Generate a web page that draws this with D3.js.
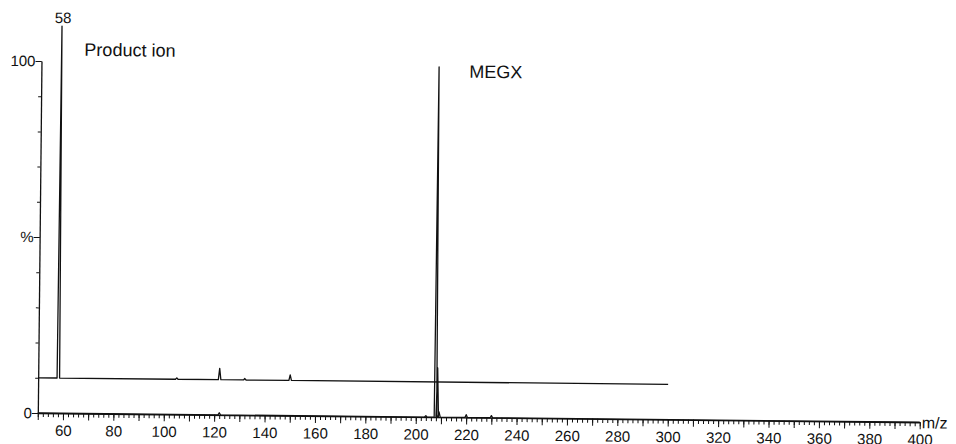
<!DOCTYPE html>
<html>
<head>
<meta charset="utf-8">
<script src="https://cdn.jsdelivr.net/npm/d3@7"></script>
<style>
  html, body { margin: 0; padding: 0; background: #fff; }
  svg { display: block; }
  text { font-family: "Liberation Sans", Arial, Helvetica, sans-serif; fill: #111; }
</style>
</head>
<body>
<svg id="chart" width="956" height="444"></svg>
<script>
// ---------- data ----------
// x-axis tick labels (m/z)
const xLabelTicks = [60, 80, 100, 120, 140, 160, 180, 200, 220, 240, 260, 280, 300, 320, 340, 360, 380, 400];
// y-axis tick labels (relative abundance, %)
const yLabelTicks = [0, 50, 100];
const yLabelTexts = ["0", "%", "100"];

// upper trace: product ion spectrum (drawn with a 10 % offset), m/z 50–300
const productMz        = [58,  105, 122, 132, 150];
const productIntensity = [100, 0.4, 3.2, 0.4, 1.6];
const productOffset    = 10;
const productSpan      = [50, 300];

// lower trace: full scan spectrum, m/z 50–400
const scanMz        = [122, 204, 207.8, 208.5, 209.2, 220, 230];
const scanIntensity = [0.6, 0.4, 99.5,  14,    1.5,   0.8, 0.6];
const scanSpan      = [50, 400];

// annotations
const peakLabel = "58";
const productLabel = "Product ion";
const megxLabel = "MEGX";
const xAxisTitle = "m/z";

// ---------- layout ----------
const svg = d3.select("#chart");
const x = d3.scaleLinear().domain([50, 400]).range([37.8, 919.8]);
const y = d3.scaleLinear().domain([0, 100]).range([413, 61]);
const ink = "#111";

// the scanned page is slightly rotated clockwise
const g = svg.append("g").attr("transform", `rotate(0.6, ${x(50)}, ${y(0)})`);

// ---------- axes ----------
const minorX = d3.range(50, 400.001, 2);
const midX = d3.range(50, 400.001, 10);

const xMinor = d3.axisBottom(x).tickValues(minorX).tickSize(4).tickSizeOuter(0).tickFormat("");
const xMid = d3.axisBottom(x).tickValues(midX).tickSize(7).tickSizeOuter(0).tickFormat("");
const xLab = d3.axisBottom(x).tickValues(xLabelTicks).tickSize(0).tickSizeOuter(0).tickPadding(12).tickFormat(d3.format("d"));

[xMinor, xMid, xLab].forEach((ax, i) => {
  const a = g.append("g").attr("transform", `translate(0,${y(0)})`).call(ax);
  a.selectAll("path").attr("stroke", ink).attr("stroke-width", 1.3).attr("opacity", i === 0 ? 1 : 0);
  a.selectAll("line").attr("stroke", ink).attr("stroke-width", 1);
  a.selectAll("text").attr("font-size", 15).attr("fill", ink)
    .attr("font-family", '"Liberation Sans", Arial, sans-serif');
});

const yMinor = d3.axisLeft(y).tickValues(d3.range(0, 100.001, 10)).tickSize(3).tickSizeOuter(0).tickFormat("");
const yMajor = d3.axisLeft(y).tickValues(yLabelTicks).tickSize(6).tickSizeOuter(0).tickPadding(0)
  .tickFormat(d => yLabelTexts[yLabelTicks.indexOf(d)]);

[yMinor, yMajor].forEach((ax, i) => {
  const a = g.append("g").attr("transform", `translate(${x(50)},0)`).call(ax);
  a.selectAll("path").attr("stroke", ink).attr("stroke-width", 1.3).attr("opacity", i === 0 ? 1 : 0);
  a.selectAll("line").attr("stroke", ink).attr("stroke-width", 1);
  a.selectAll("text").attr("font-size", 15).attr("fill", ink)
    .attr("font-family", '"Liberation Sans", Arial, sans-serif');
});

g.append("text")
  .attr("x", x(400) + 2).attr("y", y(0) + 6)
  .attr("font-size", 16)
  .text(xAxisTitle);

// ---------- spectra ----------
const halfWidth = 0.5; // rendering width of each profile peak, in m/z units
function profile(mz, inten, span, offset) {
  const pts = [[span[0], offset]];
  mz.forEach((m, i) => {
    pts.push([m - halfWidth, offset], [m, offset + inten[i]], [m + halfWidth, offset]);
  });
  pts.push([span[1], offset]);
  return pts;
}
const line = d3.line().x(d => x(d[0])).y(d => y(d[1]));

g.append("path")
  .attr("d", line(profile(scanMz, scanIntensity, scanSpan, 0)))
  .attr("fill", "none").attr("stroke", ink).attr("stroke-width", 1.3).attr("stroke-linejoin", "round");

g.append("path")
  .attr("d", line(profile(productMz, productIntensity, productSpan, productOffset)))
  .attr("fill", "none").attr("stroke", ink).attr("stroke-width", 1.3).attr("stroke-linejoin", "round");

// ---------- annotations ----------
g.append("text")
  .attr("x", x(productMz[0]) + 1).attr("y", y(productOffset + productIntensity[0]) - 3)
  .attr("text-anchor", "middle").attr("font-size", 15)
  .text(peakLabel);

g.append("text")
  .attr("x", x(67)).attr("y", y(101.6))
  .attr("font-size", 18)
  .text(productLabel);

g.append("text")
  .attr("x", x(219.8)).attr("y", y(96.5))
  .attr("font-size", 18)
  .text(megxLabel);
</script>
</body>
</html>
